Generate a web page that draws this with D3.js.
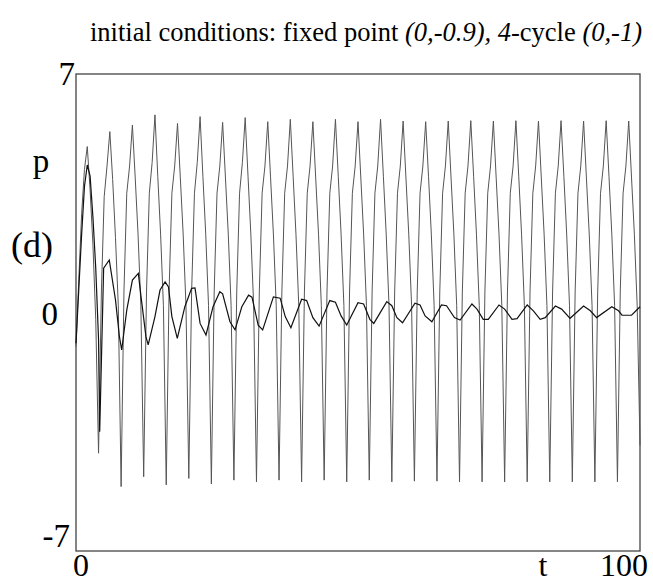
<!DOCTYPE html>
<html><head><meta charset="utf-8">
<script src="https://cdn.jsdelivr.net/npm/d3@7"></script>
<style>body{margin:0;background:#fff}svg{display:block}</style>
</head><body>
<script>
// ---- data ----
const xDomain = [0, 100];
const yDomain = [-7, 7];
const yTickLabels = [{v: 7, s: "7"}, {v: 0, s: "0"}, {v: -7, s: "-7"}];
const xTickLabels = [{v: 0, s: "0"}, {v: 100, s: "100"}];

// 4-cycle trajectory, sampled every 0.5 time units (t = 0 .. 100)
const cycleP = [
 -1.0, 1.0, 2.9, 4.2, 4.87, 3.6, 2.0, -0.2,
 -4.13, 0.6, 3.4, 4.3, 5.31, 3.9, 2.2, 0.2,
 -5.11, 0.6, 3.5, 4.3, 5.50, 3.95, 2.3, 0.2,
 -4.82, 0.6, 3.5, 4.4, 5.80, 4.0, 2.3, 0.2,
 -5.06, 0.6, 3.5, 4.3, 5.55, 3.95, 2.3, 0.2,
 -4.87, 0.6, 3.5, 4.4, 5.75, 4.0, 2.3, 0.2,
 -5.03, 0.6, 3.5, 4.3, 5.58, 3.95, 2.3, 0.2,
 -4.92, 0.6, 3.5, 4.4, 5.72, 4.0, 2.3, 0.2,
 -4.97, 0.6, 3.5, 4.3, 5.60, 3.95, 2.3, 0.2,
 -4.92, 0.6, 3.5, 4.3, 5.67, 4.0, 2.3, 0.2,
 -4.97, 0.6, 3.5, 4.3, 5.60, 3.95, 2.3, 0.2,
 -4.92, 0.6, 3.5, 4.3, 5.67, 4.0, 2.3, 0.2,
 -4.97, 0.6, 3.5, 4.3, 5.60, 3.95, 2.3, 0.2,
 -4.92, 0.6, 3.5, 4.3, 5.67, 4.0, 2.3, 0.2,
 -4.97, 0.6, 3.5, 4.3, 5.62, 3.95, 2.3, 0.2,
 -4.95, 0.6, 3.5, 4.3, 5.60, 4.0, 2.3, 0.2,
 -4.95, 0.6, 3.5, 4.3, 5.62, 3.95, 2.3, 0.2,
 -4.97, 0.6, 3.5, 4.3, 5.63, 4.0, 2.3, 0.2,
 -4.97, 0.6, 3.5, 4.3, 5.62, 3.95, 2.3, 0.2,
 -4.97, 0.6, 3.5, 4.3, 5.63, 4.0, 2.3, 0.2,
 -4.97, 0.6, 3.5, 4.3, 5.62, 3.95, 2.3, 0.2,
 -4.97, 0.6, 3.5, 4.3, 5.63, 4.0, 2.3, 0.2,
 -4.97, 0.6, 3.5, 4.3, 5.62, 3.95, 2.3, 0.2,
 -4.97, 0.6, 3.5, 4.3, 5.63, 4.0, 2.3, 0.2,
 -4.97, 0.6, 3.5, 4.3, 5.62, 3.95, 2.3, 0.2,
 -3.9
];
const cycleT = d3.range(cycleP.length).map(i => i * 0.5);

// trajectory starting near the fixed point (read at its turning points)
const fixedT = [0, 0.5, 1, 1.5, 2, 2.5, 3, 3.5, 4, 4.2, 4.9, 5.9, 7.0, 7.7, 8.1, 9.0, 10.0, 11.05, 11.6, 12.4, 12.8,
  14.0, 14.9, 15.8, 16.4, 17.0, 17.96, 19.3, 20.5, 21.1, 22.0, 23.05, 24.3, 25.5, 26.0, 27.3, 28.2, 29.4, 30.6, 31.2,
  32.3, 33.1, 35.0, 36.2, 37.1, 38.1, 40.0, 40.9, 42.0, 43.1, 45.0, 46.0, 47.0, 48.0, 50.0, 51.0, 52.1, 52.8, 55.1,
  56.0, 56.9, 57.9, 60.1, 61.0, 61.9, 63.1, 64.8, 65.7, 67.1, 68.1, 70.2, 71.1, 72.2, 73.1, 75.0, 76.0, 77.3, 78.2,
  80.0, 81.1, 82.3, 83.2, 85.0, 86.1, 87.6, 90.0, 91.2, 92.3, 95.0, 96.2, 96.8, 98.5, 100];
const fixedP = [-0.9, 0.7, 2.3, 3.7, 4.33, 4.0, 2.8, 1.3, -0.8, -3.5, 1.3, 1.54, 0.37, -0.71, -1.1, 0.07, 0.95, 1.15, 0.37, -0.71, -0.95,
  -0.12, 0.66, 0.9, 0.75, -0.12, -0.76, 0.17, 0.71, 0.72, -0.32, -0.66, 0.17, 0.61, 0.55, -0.27, -0.51, 0.17, 0.51, 0.45,
  -0.37, -0.51, 0.46, 0.42, -0.12, -0.45, 0.39, 0.35, -0.15, -0.4, 0.35, 0.3, -0.1, -0.37, 0.29, 0.25, -0.2, -0.32, 0.32,
  0.2, -0.15, -0.3, 0.27, 0.22, -0.1, -0.27, 0.22, 0.2, -0.15, -0.22, 0.25, 0.1, -0.2, -0.2, 0.22, 0.1, -0.2, -0.18,
  0.22, 0.05, -0.2, -0.15, 0.19, 0.1, -0.17, 0.19, 0.05, -0.15, 0.17, 0.05, -0.08, -0.08, 0.17];

// ---- drawing ----
const W = 653, H = 582;
const box = {left: 76, right: 640, top: 74, bottom: 551};
const font = "'Liberation Serif','Times New Roman',serif";

const svg = d3.select("body").append("svg").attr("width", W).attr("height", H);
const x = d3.scaleLinear().domain(xDomain).range([box.left, box.right]);
const y = d3.scaleLinear().domain(yDomain).range([box.bottom, box.top]);

svg.append("rect").attr("x", box.left).attr("y", box.top)
  .attr("width", box.right - box.left).attr("height", box.bottom - box.top)
  .attr("fill", "none").attr("stroke", "#444").attr("stroke-width", 1.3);

const line = d3.line().x(d => x(d[0])).y(d => y(d[1]));
svg.append("path").datum(cycleT.map((t, i) => [t, cycleP[i]]))
  .attr("d", line).attr("fill", "none").attr("stroke", "#555").attr("stroke-width", 1);
svg.append("path").datum(fixedT.map((t, i) => [t, fixedP[i]]))
  .attr("d", line).attr("fill", "none").attr("stroke", "#111").attr("stroke-width", 1.2);

const fs = 33;
const yLabelPos = {"7": {xe: 75, dy: 11}, "0": {xe: 58, dy: 12}, "-7": {xe: 70, dy: -4}};
svg.selectAll("text.yl").data(yTickLabels).enter().append("text")
  .attr("x", d => yLabelPos[d.s].xe).attr("y", d => y(d.v) + yLabelPos[d.s].dy)
  .attr("text-anchor", "end").attr("font-family", font).attr("font-size", fs).text(d => d.s);
svg.selectAll("text.xl").data(xTickLabels).enter().append("text")
  .attr("x", d => d.v === 0 ? x(d.v) - 3 : x(d.v) + 8).attr("y", 576)
  .attr("text-anchor", d => d.v === 0 ? "start" : "end")
  .attr("font-family", font).attr("font-size", 32).text(d => d.s);

svg.append("text").attr("x", 543).attr("y", 576).attr("text-anchor", "middle")
  .attr("font-family", font).attr("font-size", 32).text("t");
svg.append("text").attr("x", 41).attr("y", 172).attr("text-anchor", "middle")
  .attr("font-family", font).attr("font-size", fs).text("p");
svg.append("text").attr("x", 32).attr("y", 257).attr("text-anchor", "middle")
  .attr("font-family", font).attr("font-size", 36).text("(d)");

const title = svg.append("text").attr("x", 90).attr("y", 41)
  .attr("font-family", font).attr("font-size", 26.5);
title.append("tspan").text("initial conditions: fixed point ");
title.append("tspan").attr("font-style", "italic").text("(0,-0.9),");
title.append("tspan").text(" ");
title.append("tspan").attr("font-style", "italic").text("4");
title.append("tspan").text("-cycle ");
title.append("tspan").attr("font-style", "italic").text("(0,-1)");
</script>
</body></html>
